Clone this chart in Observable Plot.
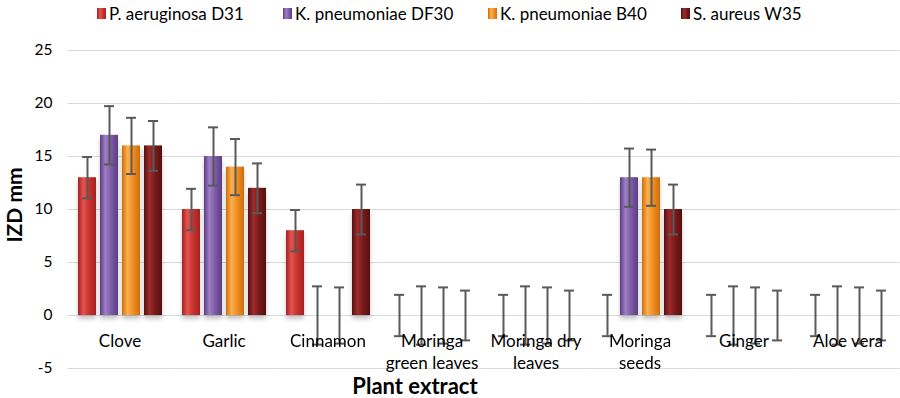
<!DOCTYPE html>
<html>
<head>
<meta charset="utf-8">
<script src="https://cdn.jsdelivr.net/npm/d3@7"></script>
<script src="https://cdn.jsdelivr.net/npm/@observablehq/plot@0.6"></script>
<style>
  html, body { margin: 0; padding: 0; background: #fff; }
  #wrap { position: relative; width: 900px; height: 398px; font-family: Lato, "Open Sans", sans-serif; color: #000; }
  #legend { position: relative; height: 26px; }
  .li { position: absolute; top: 3px; display: flex; align-items: center; font-size: 17px; white-space: nowrap; }
  .sw { width: 9px; height: 11px; margin-right: 3px; }
  #ylab { position: absolute; left: 13px; top: 205px; transform: translate(-50%, -50%) rotate(-90deg); font-weight: bold; font-size: 21px; line-height: 1; white-space: nowrap; }
  #xlab { position: absolute; left: 415px; top: 385px; transform: translate(-50%, -50%); font-weight: bold; font-size: 22px; white-space: nowrap; }
</style>
</head>
<body>
<div id="wrap">
  <div id="legend"></div>
  <div id="chart"></div>
  <div id="ylab">IZD mm</div>
  <div id="xlab">Plant extract</div>
</div>
<script>
const categories = ["Clove", "Garlic", "Cinnamon", "Moringa green leaves", "Moringa dry leaves", "Moringa seeds", "Ginger", "Aloe vera"];
const categoryLabels = ["Clove", "Garlic", "Cinnamon", "Moringa\ngreen leaves", "Moringa dry\nleaves", "Moringa\nseeds", "Ginger", "Aloe vera"];
const series = ["P. aeruginosa D31", "K. pneumoniae DF30", "K. pneumoniae B40", "S. aureus W35"];

const pAeruginosaD31 = [13, 10, 8, 0, 0, 0, 0, 0];
const kPneumoniaeDF30 = [17, 15, 0, 0, 0, 13, 0, 0];
const kPneumoniaeB40 = [16, 14, 0, 0, 0, 13, 0, 0];
const sAureusW35 = [16, 12, 10, 0, 0, 10, 0, 0];

const pAeruginosaD31Err = [1.95, 1.95, 1.95, 1.95, 1.95, 1.95, 1.95, 1.95];
const kPneumoniaeDF30Err = [2.75, 2.75, 2.75, 2.75, 2.75, 2.75, 2.75, 2.75];
const kPneumoniaeB40Err = [2.65, 2.65, 2.65, 2.65, 2.65, 2.65, 2.65, 2.65];
const sAureusW35Err = [2.35, 2.35, 2.35, 2.35, 2.35, 2.35, 2.35, 2.35];

const yTicks = [-5, 0, 5, 10, 15, 20, 25];

const seriesValues = [pAeruginosaD31, kPneumoniaeDF30, kPneumoniaeB40, sAureusW35];
const seriesErrors = [pAeruginosaD31Err, kPneumoniaeDF30Err, kPneumoniaeB40Err, sAureusW35Err];

// gradient palettes: [dark edge, highlight, main]
const palettes = [
  ["#a3221f", "#e4544f", "#cb332f"],
  ["#5c3d84", "#9e80c6", "#7f5ca8"],
  ["#cf6d0a", "#fab04e", "#f29024"],
  ["#55100f", "#9c2c2c", "#7b1a1b"]
];
const gradIds = series.map((s, i) => "grad" + i);

const rows = [];
categories.forEach((c, i) => {
  series.forEach((s, j) => {
    rows.push({category: c, series: s, value: seriesValues[j][i], err: seriesErrors[j][i]});
  });
});
const labelRows = categories.map((c, i) => ({category: c, label: categoryLabels[i]}));

// legend
const legend = document.getElementById("legend");
const legendX = [97, 283, 488, 681];
series.forEach((s, i) => {
  const item = document.createElement("div");
  item.className = "li";
  item.style.left = legendX[i] + "px";
  const sw = document.createElement("div");
  sw.className = "sw";
  const p = palettes[i];
  sw.style.background = `linear-gradient(to right, ${p[0]}, ${p[1]} 35%, ${p[2]} 65%, ${p[0]})`;
  item.appendChild(sw);
  const t = document.createElement("span");
  t.textContent = s;
  item.appendChild(t);
  legend.appendChild(item);
});

const errColor = "#595959";
const chart = Plot.plot({
  width: 900,
  height: 372,
  marginTop: 24,
  marginBottom: 30,
  marginLeft: 67,
  marginRight: 1,
  style: {fontFamily: "Lato, 'Open Sans', sans-serif", fontSize: "15.5px", color: "#000", background: "transparent"},
  fx: {domain: categories, paddingInner: 0.167, paddingOuter: 0.0835, axis: null, label: null},
  x: {domain: series, paddingInner: 0.185, paddingOuter: 0, axis: null, label: null},
  y: {domain: [-5, 25], ticks: yTicks, tickSize: 0, tickPadding: 24, label: null, tickFormat: d => String(d)},
  color: {domain: series, range: gradIds.map(id => `url(#${id})`)},
  marks: [
    Plot.ruleY(yTicks, {y: d => d, stroke: "#d9d9d9", strokeWidth: 1.2, insetLeft: -8.7, insetRight: -8.7}),
    Plot.barY(rows, {fx: "category", x: "series", y: "value", fill: "series"}),
    Plot.ruleX(rows, {fx: "category", x: "series", y1: d => d.value - d.err, y2: d => d.value + d.err, stroke: errColor, strokeWidth: 2}),
    Plot.tickY(rows, {fx: "category", x: "series", y: d => d.value + d.err, stroke: errColor, strokeWidth: 2, insetLeft: 4, insetRight: 4}),
    Plot.tickY(rows, {fx: "category", x: "series", y: d => d.value - d.err, stroke: errColor, strokeWidth: 2, insetLeft: 4, insetRight: 4}),
    Plot.text(labelRows, {fx: "category", y: () => 0, text: "label", dy: 16, lineAnchor: "top", lineHeight: 1.28, fill: "#000", fontSize: 17})
  ]
});

// gradients
const ns = "http://www.w3.org/2000/svg";
const defs = document.createElementNS(ns, "defs");
palettes.forEach((p, i) => {
  const g = document.createElementNS(ns, "linearGradient");
  g.setAttribute("id", gradIds[i]);
  g.setAttribute("x1", "0"); g.setAttribute("x2", "1"); g.setAttribute("y1", "0"); g.setAttribute("y2", "0");
  [[0, p[0]], [0.3, p[1]], [0.6, p[2]], [1, p[0]]].forEach(([o, c]) => {
    const st = document.createElementNS(ns, "stop");
    st.setAttribute("offset", o);
    st.setAttribute("stop-color", c);
    g.appendChild(st);
  });
  defs.appendChild(g);
});
chart.insertBefore(defs, chart.firstChild);
chart.querySelectorAll('g[aria-label="bar"]').forEach(g => {
  g.style.filter = "drop-shadow(0px 4px 2px rgba(0,0,0,0.22))";
});
document.getElementById("chart").appendChild(chart);
</script>
</body>
</html>
